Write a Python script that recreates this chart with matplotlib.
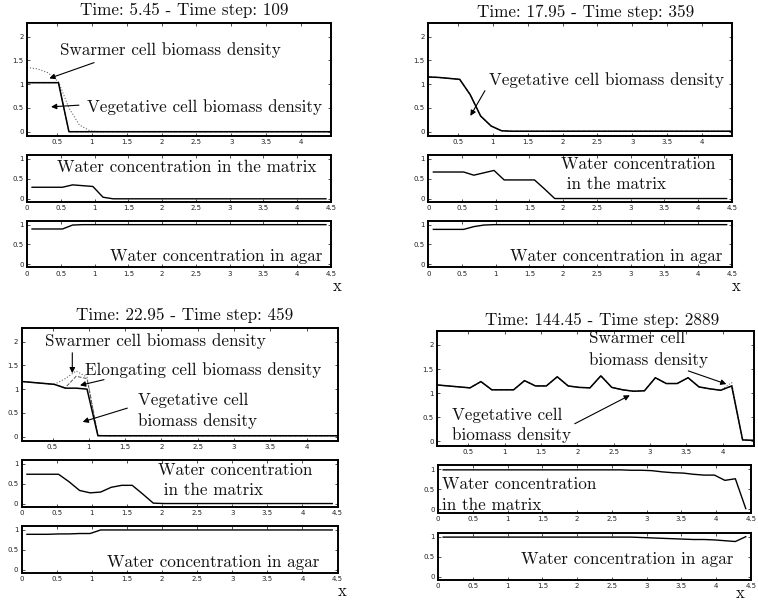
import matplotlib
matplotlib.use("Agg")
import matplotlib.pyplot as plt
from matplotlib.ticker import FormatStrFormatter

## grid of cell centres
x = [0.075, 0.225, 0.375, 0.525, 0.675, 0.825, 0.975, 1.125, 1.275, 1.425,
     1.575, 1.725, 1.875, 2.025, 2.175, 2.325, 2.475, 2.625, 2.775, 2.925,
     3.075, 3.225, 3.375, 3.525, 3.675, 3.825, 3.975, 4.125, 4.275, 4.425]

titles = ["Time: 5.45 - Time step: 109", "Time: 17.95 - Time step: 359",
          "Time: 22.95 - Time step: 459", "Time: 144.45 - Time step: 2889"]

## biomass densities (vegetative solid, swarmer dotted, elongating dashed)
veg1 = [1.03, 1.03, 1.03, 1.03, 0.0, 0, 0, 0, 0, 0, 0, 0, 0, 0, 0,
        0, 0, 0, 0, 0, 0, 0, 0, 0, 0, 0, 0, 0, 0, 0]
swa1 = [1.35, 1.32, 1.24, 1.05, 0.5, 0.14, 0.02, 0, 0, 0, 0, 0, 0, 0, 0,
        0, 0, 0, 0, 0, 0, 0, 0, 0, 0, 0, 0, 0, 0, 0]
elo1 = [1.03, 1.03, 1.03, 1.03, 0.0, 0, 0, 0, 0, 0, 0, 0, 0, 0, 0,
        0, 0, 0, 0, 0, 0, 0, 0, 0, 0, 0, 0, 0, 0, 0]
veg2 = [1.15, 1.14, 1.12, 1.10, 0.78, 0.33, 0.12, 0.02, 0.01, 0.01, 0.01, 0.01, 0.01, 0.01, 0.01,
        0.01, 0.01, 0.01, 0.01, 0.01, 0.01, 0.01, 0.01, 0.01, 0.01, 0.01, 0.01, 0.01, 0.01, 0.01]
swa2 = [1.15, 1.14, 1.12, 1.10, 0.78, 0.33, 0.12, 0.02, 0.01, 0.01, 0.01, 0.01, 0.01, 0.01, 0.01,
        0.01, 0.01, 0.01, 0.01, 0.01, 0.01, 0.01, 0.01, 0.01, 0.01, 0.01, 0.01, 0.01, 0.01, 0.01]
elo2 = [1.15, 1.14, 1.12, 1.10, 0.78, 0.33, 0.12, 0.02, 0.01, 0.01, 0.01, 0.01, 0.01, 0.01, 0.01,
        0.01, 0.01, 0.01, 0.01, 0.01, 0.01, 0.01, 0.01, 0.01, 0.01, 0.01, 0.01, 0.01, 0.01, 0.01]
veg3 = [1.16, 1.14, 1.12, 1.10, 1.02, 1.02, 1.00, 0.02, 0.02, 0.02, 0.02, 0.02, 0.02, 0.02, 0.02,
        0.02, 0.02, 0.02, 0.02, 0.02, 0.02, 0.02, 0.02, 0.02, 0.02, 0.02, 0.02, 0.02, 0.02, 0.02]
swa3 = [1.16, 1.14, 1.12, 1.10, 1.22, 1.38, 1.25, 0.03, 0.02, 0.02, 0.02, 0.02, 0.02, 0.02, 0.02,
        0.02, 0.02, 0.02, 0.02, 0.02, 0.02, 0.02, 0.02, 0.02, 0.02, 0.02, 0.02, 0.02, 0.02, 0.02]
elo3 = [1.16, 1.14, 1.12, 1.10, 1.03, 1.27, 1.22, 0.03, 0.02, 0.02, 0.02, 0.02, 0.02, 0.02, 0.02,
        0.02, 0.02, 0.02, 0.02, 0.02, 0.02, 0.02, 0.02, 0.02, 0.02, 0.02, 0.02, 0.02, 0.02, 0.02]
veg4 = [1.17, 1.15, 1.13, 1.11, 1.24, 1.07, 1.07, 1.07, 1.26, 1.15, 1.15, 1.34, 1.15, 1.12, 1.11,
        1.36, 1.12, 1.07, 1.04, 1.05, 1.32, 1.20, 1.20, 1.32, 1.13, 1.09, 1.06, 1.15, 0.03, 0.02]
swa4 = [1.17, 1.15, 1.13, 1.11, 1.24, 1.07, 1.07, 1.07, 1.26, 1.15, 1.15, 1.34, 1.15, 1.12, 1.11,
        1.36, 1.12, 1.07, 1.04, 1.05, 1.32, 1.20, 1.20, 1.32, 1.13, 1.09, 1.06, 1.22, 0.03, 0.02]
elo4 = [1.17, 1.15, 1.13, 1.11, 1.24, 1.07, 1.07, 1.07, 1.26, 1.15, 1.15, 1.34, 1.15, 1.12, 1.11,
        1.36, 1.12, 1.07, 1.04, 1.05, 1.32, 1.20, 1.20, 1.32, 1.13, 1.09, 1.06, 1.15, 0.03, 0.02]

## water concentration in the matrix
mat1 = [0.29, 0.29, 0.29, 0.29, 0.35, 0.33, 0.31, 0.04, 0, 0, 0, 0, 0, 0, 0,
        0, 0, 0, 0, 0, 0, 0, 0, 0, 0, 0, 0, 0, 0, 0]
mat2 = [0.67, 0.67, 0.67, 0.67, 0.59, 0.65, 0.71, 0.47, 0.47, 0.47, 0.47, 0.24, 0.0, 0, 0,
        0, 0, 0, 0, 0, 0, 0, 0, 0, 0, 0, 0, 0, 0, 0]
mat3 = [0.74, 0.74, 0.74, 0.74, 0.55, 0.33, 0.27, 0.29, 0.41, 0.46, 0.46, 0.24, 0.01, 0, 0,
        0, 0, 0, 0, 0, 0, 0, 0, 0, 0, 0, 0, 0, 0, 0]
mat4 = [0.98, 0.98, 0.98, 0.98, 0.98, 0.98, 0.98, 0.98, 0.98, 0.98, 0.98, 0.98, 0.98, 0.98, 0.98,
        0.98, 0.98, 0.98, 0.97, 0.97, 0.96, 0.93, 0.91, 0.90, 0.87, 0.85, 0.85, 0.72, 0.76, 0.02]

## water concentration in agar
agr1 = [0.89, 0.89, 0.89, 0.89, 0.99, 1.0, 1.0, 1.0, 1.0, 1.0, 1.0, 1.0, 1.0, 1.0, 1.0,
        1.0, 1.0, 1.0, 1.0, 1.0, 1.0, 1.0, 1.0, 1.0, 1.0, 1.0, 1.0, 1.0, 1.0, 1.0]
agr2 = [0.88, 0.88, 0.88, 0.88, 0.95, 0.99, 1.0, 1.0, 1.0, 1.0, 1.0, 1.0, 1.0, 1.0, 1.0,
        1.0, 1.0, 1.0, 1.0, 1.0, 1.0, 1.0, 1.0, 1.0, 1.0, 1.0, 1.0, 1.0, 1.0, 1.0]
agr3 = [0.89, 0.89, 0.89, 0.90, 0.90, 0.91, 0.91, 1.0, 1.0, 1.0, 1.0, 1.0, 1.0, 1.0, 1.0,
        1.0, 1.0, 1.0, 1.0, 1.0, 1.0, 1.0, 1.0, 1.0, 1.0, 1.0, 1.0, 1.0, 1.0, 1.0]
agr4 = [0.99, 0.99, 0.99, 0.99, 0.99, 0.99, 0.99, 0.99, 0.99, 0.99, 0.99, 0.99, 0.99, 0.99, 0.99,
        0.99, 0.99, 0.99, 0.99, 0.98, 0.97, 0.96, 0.95, 0.94, 0.93, 0.93, 0.92, 0.90, 0.88, 1.0]

W, H = 758, 603
SERIF = 'cmr10'
FS = 12.3
fig = plt.figure(figsize=(W / 100, H / 100), dpi=100)


def px_axes(l, t, r, b):
    return fig.add_axes([l / W, 1 - b / H, (r - l) / W, (b - t) / H])


def fp(X, Y):
    return (X / W, 1 - Y / H)


def style(ax, xlim, ylim, xt, yt):
    ax.set_xlim(*xlim)
    ax.set_ylim(*ylim)
    ax.set_xticks(xt)
    ax.set_yticks(yt)
    ax.xaxis.set_major_formatter(FormatStrFormatter('%g'))
    ax.yaxis.set_major_formatter(FormatStrFormatter('%g'))
    ax.tick_params(direction='in', length=2.5, width=0.6, labelsize=5,
                   top=True, right=True, pad=2.5, colors='#333333',
                   labelcolor='#222222')
    for s in ax.spines.values():
        s.set_linewidth(1.4)


def label(X, Y, s, ha='left', size=FS):
    fig.text(*fp(X, Y), s, ha=ha, va='center', family=SERIF, fontsize=size,
             color='#111111')


def arrow(X0, Y0, X1, Y1):
    fig.add_artist(matplotlib.patches.FancyArrowPatch(
        fp(X0, Y0), fp(X1, Y1), transform=fig.transFigure,
        arrowstyle='-|>', mutation_scale=8, lw=0.8, color='k'))


panels = [
    (titles[0], (184, 10), (veg1, swa1, elo1), mat1, agr1,
     (27, 22.7, 331, 136), (27, 155, 331, 202), (27, 220.7, 331, 267.3), (337, 286)),
    (titles[1], (586, 12), (veg2, swa2, elo2), mat2, agr2,
     (428.3, 22.7, 731.7, 136), (428.3, 155, 731.7, 201.7), (428.3, 220.7, 731.7, 267.3), (736, 286)),
    (titles[2], (185, 315), (veg3, swa3, elo3), mat3, agr3,
     (21.7, 327.7, 337.5, 441), (21.7, 460, 337.5, 506.7), (21.7, 526, 337.5, 572.7), (342, 591)),
    (titles[3], (602, 320), (veg4, swa4, elo4), mat4, agr4,
     (437.3, 331, 753.5, 445.7), (438, 465, 751, 512.7), (438, 532.7, 751, 580), (740, 593)),
]

for title, tpos, bio, mat, agr, top, mid, bot, xpos in panels:
    ax = px_axes(*top)
    veg, swa, elo = bio
    ax.plot(x, elo, '--', color='#555555', lw=0.7)
    ax.plot(x, swa, ':', color='#666666', lw=0.8)
    ax.plot(x, veg, '-', color='k', lw=1.1)
    style(ax, (0.075, 4.425), (-0.09, 2.29), [0.5, 1, 1.5, 2, 2.5, 3, 3.5, 4],
          [0, 0.5, 1, 1.5, 2])
    ax2 = px_axes(*mid)
    ax2.plot(x, mat, '-', color='k', lw=1.0)
    style(ax2, (0, 4.5), (-0.08, 1.1), [0, 0.5, 1, 1.5, 2, 2.5, 3, 3.5, 4, 4.5],
          [0, 0.5, 1])
    ax3 = px_axes(*bot)
    ax3.plot(x, agr, '-', color='k', lw=1.0)
    style(ax3, (0, 4.5), (-0.08, 1.1), [0, 0.5, 1, 1.5, 2, 2.5, 3, 3.5, 4, 4.5],
          [0, 0.5, 1])
    label(tpos[0], tpos[1], title, ha='center')
    label(xpos[0], xpos[1], 'x', ha='center', size=12)

## panel 1 labels
label(60, 50, 'Swarmer cell biomass density')
arrow(96.7, 61.7, 46.7, 79.3)
label(87, 107, 'Vegetative cell biomass density')
arrow(81.7, 105, 48.3, 107)
label(56.7, 167.3, 'Water concentration in the matrix')
label(110, 256.7, 'Water concentration in agar')

## panel 2 labels
label(489, 80, 'Vegetative cell biomass density')
arrow(486.3, 88.3, 469, 118.3)
label(560.7, 164.3, 'Water concentration')
label(560.7, 184.3, ' in the matrix')
label(509.7, 256.7, 'Water concentration in agar')

## panel 3 labels
label(45, 340.7, 'Swarmer cell biomass density')
arrow(72.3, 350, 72.3, 376)
label(85, 370, 'Elongating cell biomass density')
arrow(106.7, 379, 77.3, 386)
label(137.7, 400, 'Vegetative cell')
label(137.7, 420.7, 'biomass density')
arrow(130, 407.3, 80, 422.7)
label(158.3, 470, 'Water concentration')
label(158.3, 490.7, ' in the matrix')
label(107.3, 562.3, 'Water concentration in agar')

## panel 4 labels
label(589, 338, 'Swarmer cell')
label(589, 360, 'biomass density')
arrow(685.7, 370, 729, 385)
label(452.3, 415, 'Vegetative cell')
label(452.3, 435, 'biomass density')
arrow(572.3, 425, 632.3, 394)
label(442.3, 484.3, 'Water concentration')
label(442.3, 505, 'in the matrix')
label(520.7, 559.3, 'Water concentration in agar')

plt.savefig("out.png", dpi=100)
